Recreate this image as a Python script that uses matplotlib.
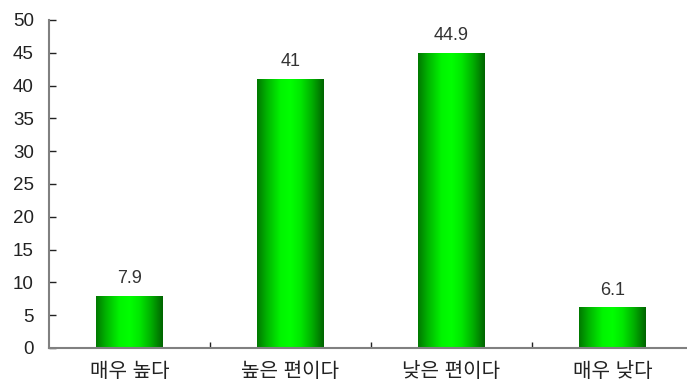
import numpy as np
import matplotlib
matplotlib.use('Agg')
import matplotlib.pyplot as plt
from matplotlib.colors import LinearSegmentedColormap
from matplotlib.ticker import FixedLocator, NullFormatter

plt.rcParams['font.family'] = ['Liberation Sans', 'Noto Sans CJK KR']

# 응답 분포 (%)
categories = ['매우 높다', '높은 편이다', '낮은 편이다', '매우 낮다']
values = [7.9, 41, 44.9, 6.1]
value_labels = ['7.9', '41', '44.9', '6.1']

fig = plt.figure(figsize=(6.87, 3.83), dpi=100)
# 한 칸 161px, 오른쪽 끝은 그림 밖으로 약간 넘어감
ax = fig.add_axes([49 / 687, 1 - 348 / 383, 644 / 687, 328 / 383])

# 원통 느낌의 가로 그라데이션
cmap = LinearSegmentedColormap.from_list(
    'cyl', [(0.0, '#007800'), (0.15, '#00b400'), (0.35, '#00f400'),
            (0.5, '#00ff00'), (0.65, '#00e800'), (0.82, '#00b000'),
            (1.0, '#006400')])
grad = np.linspace(0, 1, 256).reshape(1, -1)

x = np.arange(len(categories))
width = 0.415
for xi, v, lab in zip(x, values, value_labels):
    ax.imshow(grad, cmap=cmap, aspect='auto', interpolation='bilinear',
              extent=(xi - width / 2, xi + width / 2, 0, v), zorder=2)
    ax.text(xi, v + 1.4, lab, ha='center', va='bottom', fontsize=13, color='#333333')

ax.set_xlim(-0.5, len(categories) - 0.5)
ax.set_ylim(0, 50)
ax.set_yticks(np.arange(0, 51, 5))
ax.set_xticks(x)
ax.set_xticklabels(categories, fontsize=14.5, color='#222222')
ax.xaxis.set_minor_locator(FixedLocator(x[:-1] + 0.5))
ax.xaxis.set_minor_formatter(NullFormatter())
ax.tick_params(axis='x', which='major', length=0, pad=10)
ax.tick_params(axis='x', which='minor', direction='in', length=4, width=1, color='#222222')
ax.tick_params(axis='y', direction='in', length=5, width=1, color='#222222',
               labelsize=13.5, pad=11, labelcolor='#222222')

for s in ['top', 'right']:
    ax.spines[s].set_visible(False)
for s in ['left', 'bottom']:
    ax.spines[s].set_color('#808080')
    ax.spines[s].set_linewidth(1.5)
ax.spines['bottom'].set_zorder(3)

fig.savefig('out.png', dpi=100)
